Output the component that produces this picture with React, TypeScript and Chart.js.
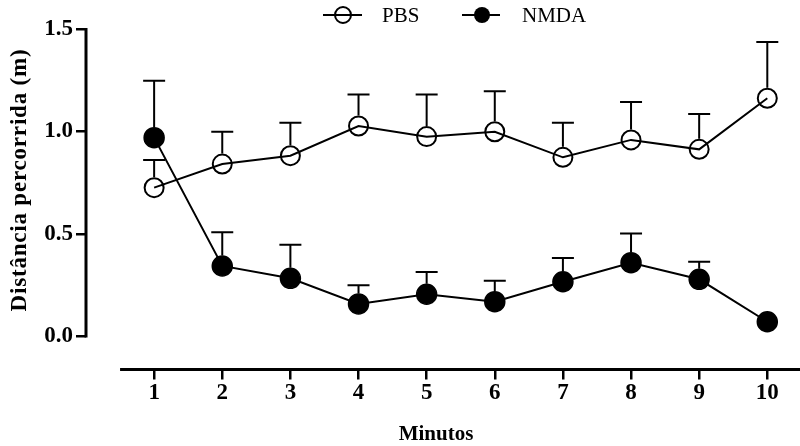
import React, { useEffect, useRef } from "react";
import { Chart, registerables } from "chart.js";

Chart.register(...registerables);

// Distance travelled per minute (mean ± SEM)
const minutes = [1, 2, 3, 4, 5, 6, 7, 8, 9, 10];
const pbsMean = [0.726, 0.841, 0.882, 1.027, 0.975, 0.999, 0.874, 0.959, 0.913, 1.162];
const pbsSem = [0.135, 0.158, 0.161, 0.153, 0.205, 0.197, 0.169, 0.185, 0.172, 0.275];
const nmdaMean = [0.97, 0.344, 0.284, 0.159, 0.206, 0.17, 0.267, 0.36, 0.279, 0.072];
const nmdaSem = [0.278, 0.164, 0.164, 0.091, 0.109, 0.102, 0.116, 0.143, 0.086, 0.03];
const yTicks = [0, 0.5, 1.0, 1.5];
const seriesNames = ["PBS", "NMDA"];
const xTitle = "Minutos";
const yTitle = "Distância percorrida (m)";

const SERIF = '"Liberation Serif", "Times New Roman", serif';
const MARKER_R = 9.5;

export default function App() {
  const ref = useRef<HTMLCanvasElement>(null);

  useEffect(() => {
    const canvas = ref.current;
    if (!canvas) return;

    // Upward SEM whiskers, starting at the marker edge
    const errorBars = {
      id: "errorBars",
      beforeDatasetsDraw(chart: any) {
        const ctx = chart.ctx;
        const yScale = chart.scales.y;
        ctx.save();
        ctx.strokeStyle = "#000";
        ctx.lineWidth = 2;
        chart.data.datasets.forEach((ds: any, di: number) => {
          const meta = chart.getDatasetMeta(di);
          meta.data.forEach((pt: any, i: number) => {
            const v = ds.data[i].y;
            const top = yScale.getPixelForValue(v + ds.sem[i]);
            const start = pt.y - MARKER_R - 1;
            if (top >= start) return;
            ctx.beginPath();
            ctx.moveTo(pt.x, start);
            ctx.lineTo(pt.x, top);
            ctx.moveTo(pt.x - 11, top);
            ctx.lineTo(pt.x + 11, top);
            ctx.stroke();
          });
        });
        ctx.restore();
      },
    };

    // Axis lines, x tick labels, titles and the legend
    const decorations = {
      id: "decorations",
      afterDraw(chart: any) {
        const ctx = chart.ctx;
        const { left, right, bottom } = chart.chartArea;
        const x = chart.scales.x;
        const y = chart.scales.y;
        ctx.save();
        ctx.strokeStyle = "#000";
        ctx.fillStyle = "#000";
        ctx.lineWidth = 3;
        ctx.lineCap = "butt";

        // y axis spans only the tick range
        ctx.beginPath();
        ctx.moveTo(left, y.getPixelForValue(yTicks[yTicks.length - 1]) - 1);
        ctx.lineTo(left, y.getPixelForValue(yTicks[0]) + 1);
        ctx.stroke();

        // detached x axis
        ctx.beginPath();
        ctx.moveTo(x.getPixelForValue(0.5), bottom);
        ctx.lineTo(right, bottom);
        ctx.stroke();

        // x tick labels
        ctx.font = `bold 23px ${SERIF}`;
        ctx.textAlign = "center";
        ctx.textBaseline = "middle";
        x.ticks.forEach((t: any) => {
          ctx.fillText(String(t.value), x.getPixelForValue(t.value), bottom + 24);
        });

        // y title
        ctx.save();
        ctx.translate(20, 180);
        ctx.rotate(-Math.PI / 2);
        ctx.font = `bold 23px ${SERIF}`;
        (ctx as any).letterSpacing = "0.8px";
        ctx.textAlign = "center";
        ctx.textBaseline = "middle";
        ctx.fillText(yTitle, 0, 0);
        ctx.restore();

        // x title
        ctx.font = `bold 21px ${SERIF}`;
        ctx.textAlign = "center";
        ctx.textBaseline = "middle";
        ctx.fillText(xTitle, 436, 435);

        // legend
        const items = [
          { x0: 323, x1: 362, cx: 343, tx: 382, filled: false },
          { x0: 462, x1: 500, cx: 482, tx: 522, filled: true },
        ];
        const ly = 15;
        ctx.font = `21px ${SERIF}`;
        ctx.textAlign = "left";
        items.forEach((it, i) => {
          ctx.lineWidth = 2;
          ctx.beginPath();
          ctx.moveTo(it.x0, ly);
          ctx.lineTo(it.x1, ly);
          ctx.stroke();
          ctx.beginPath();
          ctx.arc(it.cx, ly, 8, 0, Math.PI * 2);
          if (it.filled) ctx.fill();
          else ctx.stroke();
          ctx.fillText(seriesNames[i], it.tx, ly + 1);
        });
        ctx.restore();
      },
    };

    const tickFont = { family: SERIF, size: 23, weight: "bold" as const };

    const chart = new Chart(canvas, {
      type: "line",
      data: {
        datasets: [
          {
            label: seriesNames[0],
            data: minutes.map((m, i) => ({ x: m, y: pbsMean[i] })),
            sem: pbsSem,
            borderColor: "#000",
            borderWidth: 2,
            pointRadius: MARKER_R,
            pointBorderWidth: 2,
            pointBorderColor: "#000",
            pointBackgroundColor: "rgba(0,0,0,0)",
            tension: 0,
          } as any,
          {
            label: seriesNames[1],
            data: minutes.map((m, i) => ({ x: m, y: nmdaMean[i] })),
            sem: nmdaSem,
            borderColor: "#000",
            borderWidth: 2,
            pointRadius: MARKER_R + 0.5,
            pointBorderWidth: 1.5,
            pointBorderColor: "#000",
            pointBackgroundColor: "#000",
            tension: 0,
          } as any,
        ],
      },
      options: {
        responsive: false,
        animation: false,
        layout: { autoPadding: false, padding: { top: 29, left: 0, right: 0, bottom: 0 } },
        plugins: {
          legend: { display: false },
          tooltip: { enabled: false },
        },
        scales: {
          x: {
            type: "linear",
            min: 0,
            max: 10.48,
            afterBuildTicks: (s: any) => {
              s.ticks = minutes.map((v) => ({ value: v }));
            },
            afterFit: (s: any) => {
              s.height = 76.5;
            },
            grid: {
              drawOnChartArea: false,
              drawTicks: true,
              tickLength: 10,
              lineWidth: 2.5,
              color: "#000",
            },
            border: { display: false },
            ticks: { display: false, autoSkip: false },
          },
          y: {
            type: "linear",
            min: -0.161,
            max: 1.5,
            afterBuildTicks: (s: any) => {
              s.ticks = yTicks.map((v) => ({ value: v }));
            },
            afterFit: (s: any) => {
              s.width = 86;
            },
            grid: {
              drawOnChartArea: false,
              drawTicks: true,
              tickLength: 10,
              lineWidth: 2.5,
              color: "#000",
            },
            border: { display: false },
            ticks: {
              autoSkip: false,
              font: tickFont,
              color: "#000",
              padding: 3,
              callback: (v: any) => Number(v).toFixed(1),
            },
          },
        },
      },
      plugins: [errorBars, decorations],
    });

    return () => chart.destroy();
  }, []);

  return (
    <div style={{ position: "fixed", left: 0, top: 0, width: 800, height: 446, background: "#fff" }}>
      <canvas ref={ref} width={800} height={446} style={{ display: "block", width: 800, height: 446 }} />
    </div>
  );
}
